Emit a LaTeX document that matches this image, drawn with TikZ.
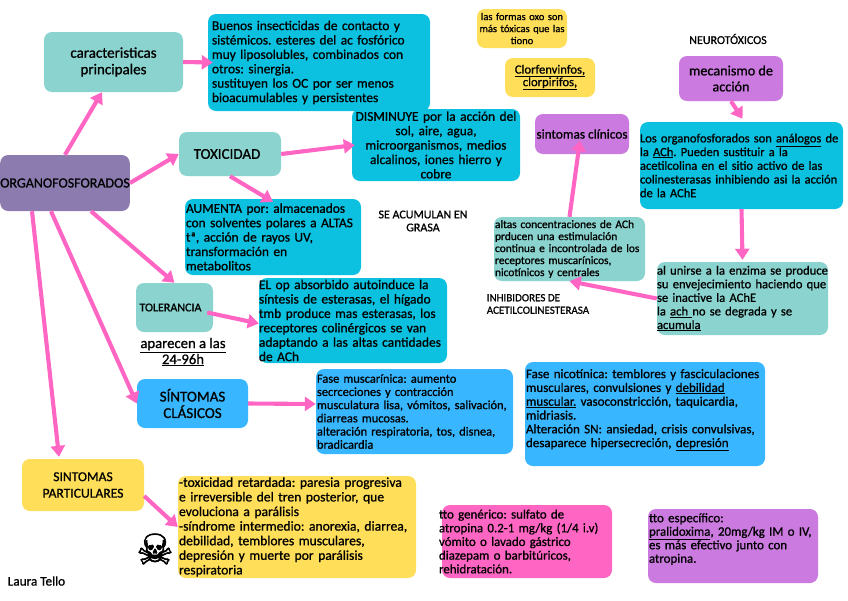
\documentclass[tikz,border=0pt]{standalone}
\usepackage{fontspec}
\setmainfont[RawFeature={embolden=0.9}]{Carlito}
\newfontfamily\skullfont[RawFeature={embolden=1.5}]{DejaVu Sans}
\usetikzlibrary{arrows.meta}
\definecolor{mapteal}{RGB}{138,211,207}
\definecolor{mapcyan}{RGB}{12,192,223}
\definecolor{mapviolet}{RGB}{140,123,175}
\definecolor{mapyellow}{RGB}{255,222,89}
\definecolor{mapsky}{RGB}{56,182,255}
\definecolor{mappink}{RGB}{255,102,196}
\definecolor{maplilac}{RGB}{203,122,224}
\newcommand{\fs}[2]{\frenchspacing\fontsize{#1}{#2}\selectfont}
\tikzset{
  mapbox/.style={rounded corners=8pt, inner xsep=1pt, inner ysep=0pt, align=left, font=\fs{13.4}{14.4}},
  headbox/.style={rounded corners=8pt, inner sep=0pt, align=center, font=\fs{15}{16.5}},
  note/.style={inner sep=0pt, align=center, font=\fs{12}{13}},
  link/.style={line width=4.1pt, mappink, -{Triangle[length=11pt,width=14pt]}}
}

\begin{document}
\begin{tikzpicture}[x=1pt,y=-1pt]
  \useasboundingbox (0,0) rectangle (848,600);
  % first branch
  \node[headbox, fill=mapviolet, font=\fs{14}{16}, minimum width=128pt, minimum height=56pt] (org) at (65,183) {ORGANOFOSFORADOS};
  \node[headbox, fill=mapteal, minimum width=139pt, minimum height=60pt] (caract) at (113.5,62) {caracteristicas\\principales};
  \node[mapbox, fill=mapcyan, inner xsep=4pt, text width=214pt, minimum height=97pt] (buenos) at (319,62.5) {Buenos insecticidas de contacto y\\sistémicos. esteres del ac fosfórico\\muy liposolubles, combinados con\\otros: sinergia.\\sustituyen los OC por ser menos\\bioacumulables y persistentes};
  % toxicity
  \node[headbox, fill=mapteal, minimum width=102pt, minimum height=44pt] (tox) at (230,154) {TOXICIDAD\hspace*{6pt}};
  \node[mapbox, fill=mapcyan, align=center, text width=166pt, minimum height=72pt] (dism) at (436,145) {DISMINUYE por la acción del\\sol, aire, agua,\\microorganismos, medios\\alcalinos, iones hierro y\\cobre};
  \node[mapbox, fill=mapcyan, text width=174pt, minimum height=76pt] (aum) at (273,237) {AUMENTA por: almacenados\\con solventes polares a ALTAS\\tª, acción de rayos UV,\\transformación en\\metabolitos};
  \node[note] (acum) at (423,221) {SE ACUMULAN EN\\GRASA};
  % tolerance
  \node[headbox, fill=mapteal, font=\fs{12}{14}, minimum width=77pt, minimum height=49pt] (tol) at (174.5,307.5) {TOLERANCIA\hspace*{8pt}};
  \node[mapbox, fill=mapcyan, inner xsep=0pt, text width=188pt, minimum height=85pt] (elop) at (353,320.5) {EL op absorbido autoinduce la\\síntesis de esterasas, el hígado\\tmb produce mas esterasas, los\\receptores colinérgicos se van\\adaptando a las altas cantidades\\de ACh};
  \node[note, font=\fs{14.7}{16}] (horas) at (183,352) {\underline{aparecen a las}\\\underline{24-96h}};
  % classic symptoms
  \node[headbox, fill=mapsky, minimum width=111pt, minimum height=49pt] (clas) at (192.5,403.5) {SÍNTOMAS\\CLÁSICOS};
  \node[mapbox, fill=mapsky, font=\fs{12.4}{13.2}, text width=195pt, minimum height=85pt] (musc) at (414.5,411.5) {Fase muscarínica: aumento\\secrceciones y contracción\\musculatura lisa, vómitos, salivación,\\diarreas mucosas.\\alteración respiratoria, tos, disnea,\\bradicardia};
  \node[mapbox, fill=mapsky, font=\fs{13}{13.8}, text width=238pt, minimum height=104pt] (nic) at (645,414) {Fase nicotínica: temblores y fasciculaciones\\musculares, convulsiones y \underline{debilidad}\\\underline{muscular.} vasoconstricción, taquicardia,\\midriasis.\\Alteración SN: ansiedad, crisis convulsivas,\\desaparece hipersecreción, \underline{depresión}\\[-2pt]~};
  % particular symptoms
  \node[headbox, fill=mapyellow, font=\fs{13.6}{16.5}, minimum width=122pt, minimum height=52pt] (part) at (83,485) {SINTOMAS\\PARTICULARES};
  \node[mapbox, fill=mapyellow, font=\fs{13.6}{14.6}, text width=236pt, minimum height=102pt] (ret) at (297,527) {-toxicidad retardada: paresia progresiva\\e irreversible del tren posterior, que\\evoluciona a parálisis\\-síndrome intermedio: anorexia, diarrea,\\debilidad, temblores musculares,\\depresión y muerte por parálisis\\respiratoria};
  \node[inner sep=0pt, font=\skullfont\fontsize{42}{42}\selectfont] (skull) at (155,549) {☠};
  \node[note, font=\fs{13.2}{14}] (autora) at (36.5,581) {Laura Tello};
  % treatment
  \node[mapbox, fill=mappink, inner xsep=-3pt, font=\fs{12.9}{13.7}, text width=176pt, minimum height=73pt] (gen) at (527,541.5) {tto genérico: sulfato de\\atropina 0.2-1 mg/kg (1/4 i.v)\\vómito o lavado gástrico\\diazepam o barbitúricos,\\rehidratación.};
  \node[mapbox, fill=maplilac, font=\fs{12.9}{13.5}, text width=168pt, minimum height=74pt] (esp) at (733,546) {tto específico:\\\underline{pralidoxima}, 20mg/kg IM o IV,\\es más efectivo junto con\\atropina.\\[2.5pt]~};
  % top right
  \node[mapbox, fill=mapyellow, align=center, font=\fs{10.5}{12}, text width=88pt, minimum height=39pt] (oxo) at (522,28.5) {las formas oxo son\\más tóxicas que las\\tiono};
  \node[mapbox, fill=mapyellow, align=center, font=\fs{12.6}{12.5}, text width=88pt, minimum height=39pt] (clor) at (550,77.5) {\underline{Clorfenvinfos,}\\\underline{clorpirifos,}};
  \node[note] (neuro) at (728,39) {NEUROTÓXICOS};
  \node[headbox, fill=maplilac, font=\fs{14.2}{16}, minimum width=104pt, minimum height=45pt] (mec) at (731,78.5) {mecanismo de\\acción};
  \node[headbox, fill=maplilac, font=\fs{13.3}{15}, minimum width=94pt, minimum height=40pt] (clin) at (582,134) {sintomas clínicos};
  \node[mapbox, fill=mapcyan, inner xsep=0pt, font=\fs{12.5}{13.7}, text width=203pt, minimum height=87pt] (los) at (741.5,165.5) {Los organofosforados son \underline{análogos} de\\la \underline{ACh}. Pueden sustituir a la\\acetilcolina en el sitio activo de las\\colinesterasas inhibiendo asi la acción\\de la AChE};
  \node[mapbox, fill=mapteal, font=\fs{11.4}{12}, text width=149pt, minimum height=64pt] (altas) at (569.5,249) {altas concentraciones de ACh\\prducen una estimulación\\continua e incontrolada de los\\receptores muscarínicos,\\nicotínicos y centrales};
  \node[mapbox, fill=mapteal, inner xsep=0pt, font=\fs{12.6}{13.6}, text width=171pt, minimum height=73pt] (unir) at (742.5,298.5) {al unirse a la enzima se produce\\su envejecimiento haciendo que\\se inactive la AChE\\la \underline{ach }no se degrada y se\\\underline{acumula}};
  \node[note, align=left, font=\fs{11}{12.5}] (inhib) at (538,304) {INHIBIDORES DE\\ACETILCOLINESTERASA};
  % arrows
  \draw[link] (org.north) -- (caract.249);
  \draw[link] (caract.east) -- ([xshift=5pt]buenos.west);
  \draw[link] (org.east) -- (tox.west);
  \draw[link] (tox.east) -- ([xshift=3pt]dism.west);
  \draw[link] (tox.south) -- ([yshift=-3pt]aum.north);
  \draw[link] ([xshift=26pt]org.south) -- (tol.north);
  \draw[link] ([xshift=-6pt,yshift=-5pt]tol.east) -- ([yshift=-3pt]elop.west);
  \draw[link] ([xshift=-14pt]org.south) -- (clas.west);
  \draw[link] (clas.east) -- ([yshift=7.5pt]musc.west);
  \draw[link] ([xshift=-33pt]org.south) -- ([xshift=-24pt,yshift=2pt]part.north);
  \draw[link] ([yshift=-11pt]part.east) -- (ret.west);
  \draw[link] (mec.south) -- ([xshift=1pt,yshift=3pt]los.north);
  \draw[link] (los.south) -- ([yshift=2pt]unir.north);
  \draw[link] (unir.west) -- (altas.south);
  \draw[link] (altas.north) -- ([xshift=-2pt,yshift=14pt]clin.south);
\end{tikzpicture}
\end{document}
